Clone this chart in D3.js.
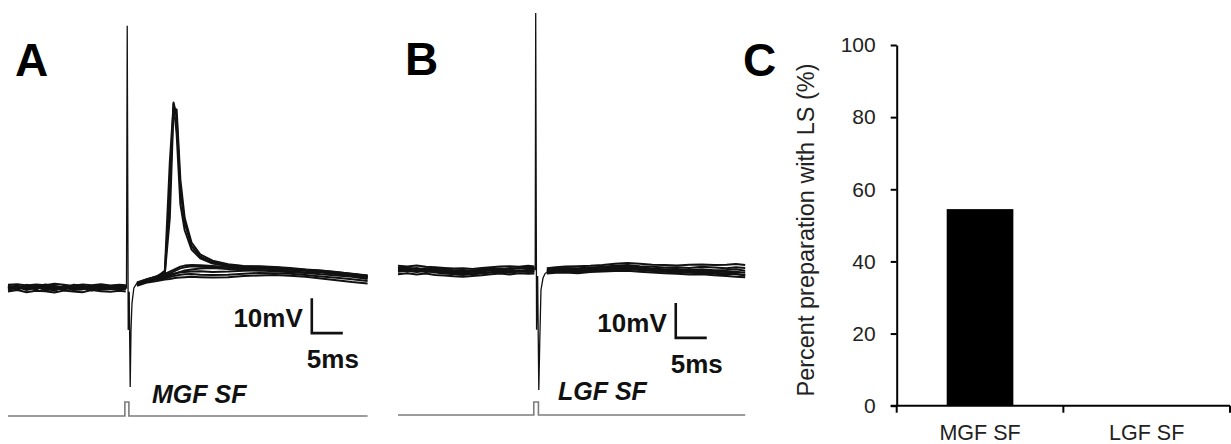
<!DOCTYPE html>
<html>
<head>
<meta charset="utf-8">
<script src="https://cdn.jsdelivr.net/npm/d3@7/dist/d3.min.js"></script>
<style>
  body { margin: 0; background: #fff; }
  svg { display: block; font-family: 'Liberation Sans', Arial, sans-serif; }
</style>
</head>
<body>
<svg width="1231" height="444"></svg>
<script>
// ---- panel A : MGF SF, sweeps (ms / mV relative to rest) ----
const timeA = [0, 1.5, 3, 4.5, 6, 7.5, 9, 10.5, 12, 13.5, 15, 16.5, 18, 19, 20,
  20.8, 22.5, 24, 25.3, 26.1, 26.7, 27.2, 27.8, 28.5, 29.6, 31, 33, 35.5, 38, 40.5, 43, 45.5, 48, 50.5, 53, 55.5, 58]
const sweepsA = [
  [0.9, 1.1, 0.7, 1.0, 0.8, 1.2, 0.9, 0.6, 1.0, 0.8, 1.1, 0.7, 0.9, 0.8, null,
    1.6, 2.6, 3.2, 4.0, 4.7, 5.2, 5.6, 6.1, 6.4, 6.6, 6.5, 6.3, 6.0, 5.8, 6.1, 5.9, 5.5, 5.2, 4.9, 4.5, 4.1, 3.6],
  [-0.2, 0.3, 0.1, -0.3, 0.4, 0.0, -0.4, 0.2, 0.3, -0.1, 0.2, 0.4, -0.2, 0.1, null,
    1.0, 2.0, 2.6, 3.1, 3.5, 3.9, 4.2, 4.6, 5.0, 5.3, 5.6, 5.7, 5.4, 5.3, 5.0, 5.2, 4.8, 4.4, 4.6, 4.0, 3.5, 3.0],
  [-1.0, -0.6, -1.2, -0.8, -0.9, -1.3, -0.7, -1.0, -1.2, -0.6, -0.9, -1.1, -0.8, -1.0, null,
    0.6, 1.6, 2.0, 2.4, 2.6, 2.8, 2.9, 3.0, 3.1, 3.2, 3.1, 3.0, 3.1, 3.4, 3.6, 3.7, 3.5, 3.2, 2.7, 2.2, 1.7, 1.3],
  [0.4, -0.5, 0.6, 0.2, -0.3, 0.5, 0.3, -0.2, 0.6, 0.1, -0.4, 0.3, 0.5, 0.2, null,
    1.2, 2.2, 2.8, 3.4, 3.8, 4.1, 4.3, 4.5, 4.6, 4.7, 4.8, 4.6, 4.7, 4.9, 5.0, 4.8, 4.5, 4.3, 3.9, 3.6, 3.2, 2.6],
  [-0.6, 0.1, -0.3, 0.5, -0.7, -0.2, 0.2, -0.6, -0.4, 0.4, -0.5, -0.3, 0.3, -0.4, null,
    0.9, 1.9, 2.4, 2.8, 3.1, 3.4, 3.6, 3.8, 3.9, 4.0, 3.8, 3.7, 3.8, 4.1, 4.3, 4.2, 4.1, 3.7, 3.3, 2.9, 2.5, 2.0],
  [0.2, 0.7, -0.1, 0.6, 0.3, -0.5, 0.6, 0.4, -0.3, 0.5, 0.6, -0.1, 0.4, 0.5, null,
    1.3, 2.4, 3.0, 3.6, 4.2, 4.7, 5.1, 5.6, 5.9, 6.2, 6.1, 5.9, 5.6, 5.5, 5.4, 5.6, 5.3, 5.0, 4.6, 4.2, 3.9, 3.4],
  // sweeps with a late spike
  [0.5, -0.1, 0.3, -0.4, 0.6, 0.2, -0.3, 0.5, 0.1, 0.3, -0.2, 0.6, 0.0, 0.3, null,
    1.2, 2.3, 3.3, 4.6, 27, 53, 49, 28, 18.6, 12, 9.0, 7.4, 6.6, 6.2, 6.0, 5.8, 5.5, 5.1, 4.8, 4.3, 3.8, 3.2],
  [-0.4, 0.4, -0.6, 0.1, 0.0, -0.8, 0.4, -0.4, 0.0, -0.7, 0.3, -0.2, -0.5, -0.3, null,
    1.1, 2.1, 3.1, 5.0, 36, 52.5, 44, 24, 16.5, 11, 8.5, 7.0, 6.3, 5.9, 5.8, 5.5, 5.2, 4.9, 4.5, 4.0, 3.5, 2.9],
  [0.7, 0.0, 0.9, 0.3, 1.0, 0.6, 0.1, 0.9, 0.7, 0.0, 0.8, 0.2, 0.7, 0.6, null,
    1.4, 2.5, 3.4, 4.2, 20, 51.5, 51, 31, 20, 13, 9.6, 7.8, 6.8, 6.3, 6.2, 6.0, 5.7, 5.3, 5.0, 4.6, 4.0, 3.5]
]
const artifactA = [[19.0, 0], [19.11, 0], [19.23, 74.9], [19.39, -12], [19.55, -1.1], [19.71, -28.3],
  [19.84, -12], [20.0, -4.3], [20.3, 0], [20.8, 1.4]]
const stimA = [[0, 0], [18.85, 0], [18.85, 1], [19.5, 1], [19.5, 0], [58, 0]]

// ---- panel B : LGF SF ----
const timeB = [0, 1.5, 3, 4.5, 6, 7.5, 9, 10.5, 12, 13.5, 15, 16.5, 18, 19.5, 21, 22, 23,
  24, 25.5, 27, 29, 31, 33, 35, 37, 39, 41, 43, 45, 47, 49, 51, 53, 54.5, 56]
const sweepsB = [
  [1.2, 1.0, 1.3, 0.9, 0.8, 0.6, 0.4, 0.5, 0.3, 0.6, 0.8, 1.0, 1.1, 0.9, 1.2, 1.0, null,
    0.5, 0.8, 1.0, 1.1, 1.2, 1.4, 1.8, 2.0, 1.8, 1.5, 1.4, 1.3, 1.5, 1.6, 1.4, 1.5, 1.7, 1.4],
  [0.4, 0.7, 0.2, 0.5, 0.1, -0.2, -0.4, -0.2, -0.5, -0.1, 0.2, 0.4, 0.3, 0.6, 0.3, 0.5, null,
    0.1, 0.4, 0.6, 0.5, 0.7, 0.9, 1.2, 1.4, 1.1, 0.9, 0.7, 0.8, 0.6, 0.9, 0.7, 0.5, 0.8, 0.6],
  [-0.5, -0.2, -0.6, -0.3, -0.7, -1.0, -1.2, -1.4, -1.1, -0.8, -0.6, -0.3, -0.5, -0.2, -0.4, -0.3, null,
    -0.6, -0.3, -0.2, -0.4, -0.1, 0.2, 0.4, 0.6, 0.3, 0.0, -0.2, -0.4, -0.6, -0.5, -0.8, -1.0, -1.2, -1.4],
  [-1.2, -0.9, -1.3, -1.0, -1.4, -1.6, -1.8, -1.9, -1.7, -1.5, -1.2, -1.0, -1.3, -0.9, -1.1, -1.0, null,
    -1.0, -0.8, -0.7, -0.9, -0.6, -0.4, -0.3, -0.2, -0.5, -0.7, -0.9, -1.1, -1.3, -1.2, -1.5, -1.7, -1.9, -2.1],
  [0.8, 0.3, 0.6, 0.1, 0.4, 0.2, -0.1, 0.0, -0.2, 0.3, 0.5, 0.1, 0.6, 0.4, 0.8, 0.6, null,
    -0.2, 0.2, 0.3, 0.1, 0.4, 0.6, 0.9, 1.1, 0.8, 0.4, 0.2, 0.3, 0.0, 0.2, -0.1, 0.0, 0.2, -0.2],
  [-0.1, 0.2, -0.3, 0.1, -0.2, -0.5, -0.7, -0.6, -0.9, -0.4, -0.1, -0.3, 0.1, -0.2, 0.0, 0.1, null,
    -0.4, -0.1, 0.0, -0.2, 0.1, 0.3, 0.6, 0.8, 0.5, 0.2, 0.0, -0.1, -0.3, -0.1, -0.4, -0.6, -0.5, -0.8],
  [0.1, -0.4, 0.0, -0.6, -0.3, -0.7, -0.9, -1.0, -1.2, -1.0, -0.7, -0.5, -0.8, -0.4, -0.6, -0.5, null,
    -0.8, -0.5, -0.4, -0.6, -0.3, -0.1, 0.1, 0.2, 0.0, -0.3, -0.5, -0.7, -0.8, -0.9, -1.1, -1.3, -1.1, -1.6]
]
const artifactB = [[22.0, 0.5], [22.13, 0], [22.21, 73.4], [22.35, -17.1], [22.52, -1.7], [22.71, -34.3],
  [22.87, -20], [23.06, -5.7], [23.39, -2.3], [23.7, -1.1], [24.0, -0.6]]
const stimB = [[0, 0], [21.9, 0], [21.9, 1], [22.65, 1], [22.65, 0], [56, 0]]

// ---- panel C : bars ----
const groups = ['MGF SF', 'LGF SF']
const percentLS = [54.5, 0]
const pctTicks = [0, 20, 40, 60, 80, 100]

const svg = d3.select('svg'),
  ink = '#111'

// scales for the two recordings (5 ms = 31 px, 10 mV = 35 px)
const xA = d3.scaleLinear().domain([0, 58]).range([8, 367.6]),
  yA = d3.scaleLinear().domain([-30, 80]).range([393, 8]),
  sA = d3.scaleLinear().domain([0, 1]).range([416, 402]),
  xB = d3.scaleLinear().domain([0, 56]).range([398, 745.2]),
  yB = d3.scaleLinear().domain([-30, 80]).range([375, -10]),
  sB = d3.scaleLinear().domain([0, 1]).range([415, 402])

drawRecording(timeA, sweepsA, artifactA, stimA, xA, yA, sA)
drawRecording(timeB, sweepsB, artifactB, stimB, xB, yB, sB)
scaleBar(xA, yA, 49, -12.9, 'MGF SF', [152, 403])
scaleBar(xB, yB, 44.8, -19.4, 'LGF SF', [558, 400])

function drawRecording(time, sweeps, artifact, stim, x, y, s) {
  const g = svg.append('g').attr('fill', 'none')
  const line = d3.line().defined(d => d[1] != null).x(d => x(d[0])).y(d => y(d[1]))
  sweeps.forEach(v => {
    g.append('path')
      .attr('d', line(time.map((t, i) => [t, v[i]])))
      .attr('stroke', ink)
      .attr('stroke-width', 2)
      .attr('stroke-linejoin', 'round')
  })
  g.append('path').attr('d', line(artifact)).attr('stroke', ink).attr('stroke-width', 1.3)
  g.append('path')
    .attr('d', d3.line().x(d => x(d[0])).y(d => s(d[1]))(stim))
    .attr('stroke', '#7c7c7c')
    .attr('stroke-width', 1.6)
}

function scaleBar(x, y, t0, v0, label, pos) {
  const g = svg.append('g').attr('fill', ink).attr('font-weight', 'bold')
  const cx = x(t0), cy = y(v0)
  g.append('path')
    .attr('d', `M${cx},${y(v0 + 10)}V${cy}H${x(t0 + 5)}`)
    .attr('fill', 'none').attr('stroke', ink).attr('stroke-width', 2.6)
  g.append('text').attr('x', cx - 9).attr('y', cy - 6).attr('text-anchor', 'end')
    .attr('font-size', 26).text('10mV')
  g.append('text').attr('x', cx - 5).attr('y', cy + 35).attr('font-size', 26).text('5ms')
  g.append('text').attr('x', pos[0]).attr('y', pos[1]).attr('font-size', 25)
    .attr('font-style', 'italic').text(label)
}

// panel letters
svg.selectAll('text.panel')
  .data([['A', 15, 76], ['B', 405, 75], ['C', 743, 76]])
  .join('text')
  .attr('class', 'panel')
  .attr('x', d => d[1]).attr('y', d => d[2])
  .attr('font-size', 46).attr('font-weight', 'bold').attr('fill', '#000')
  .text(d => d[0])

// ---- bar chart ----
const x = d3.scaleBand().domain(groups).range([896.7, 1230]).paddingInner(0.6).paddingOuter(0.3),
  y = d3.scaleLinear().domain([0, 100]).range([405.7, 45])

svg.append('g')
  .selectAll('rect')
  .data(groups)
  .join('rect')
  .attr('x', d => x(d))
  .attr('y', (d, i) => y(percentLS[i]))
  .attr('width', x.bandwidth())
  .attr('height', (d, i) => y(0) - y(percentLS[i]))
  .attr('fill', '#000')

const axisY = svg.append('g')
  .attr('transform', `translate(${x.range()[0]},0)`)
  .call(d3.axisLeft(y).tickValues(pctTicks).tickSize(6).tickSizeOuter(0).tickPadding(15))
const axisX = svg.append('g')
  .attr('transform', `translate(0,${y(0)})`)
  .call(d3.axisBottom(x).tickSize(0).tickSizeOuter(0).tickPadding(19))

// category boundary ticks (Excel style)
const edges = groups.map(d => x(d) - x.step() * x.paddingInner() / 2).concat(x.range()[1])
axisX.selectAll('line.edge')
  .data(edges)
  .join('line')
  .attr('class', 'edge')
  .attr('x1', d => d).attr('x2', d => d)
  .attr('y1', 0).attr('y2', 7)
  .attr('stroke', '#000').attr('stroke-width', 2)
axisX.select('.domain').attr('d', `M${x.range()[0] - 6},0H${x.range()[1]}`)

;[axisY, axisX].forEach(a => {
  a.select('.domain').attr('stroke', '#000').attr('stroke-width', 2)
  a.selectAll('.tick line').attr('stroke', '#000').attr('stroke-width', 2)
  a.selectAll('.tick text').attr('font-size', 21).attr('fill', '#222')
    .attr('font-family', "'Liberation Sans', Arial, sans-serif")
})
axisX.selectAll('.tick text').attr('font-size', 21.5)

svg.append('text')
  .attr('transform', 'translate(814,230) rotate(-90)')
  .attr('text-anchor', 'middle')
  .attr('font-size', 23.5)
  .attr('fill', '#222')
  .text('Percent preparation with LS (%)')
</script>
</body>
</html>
